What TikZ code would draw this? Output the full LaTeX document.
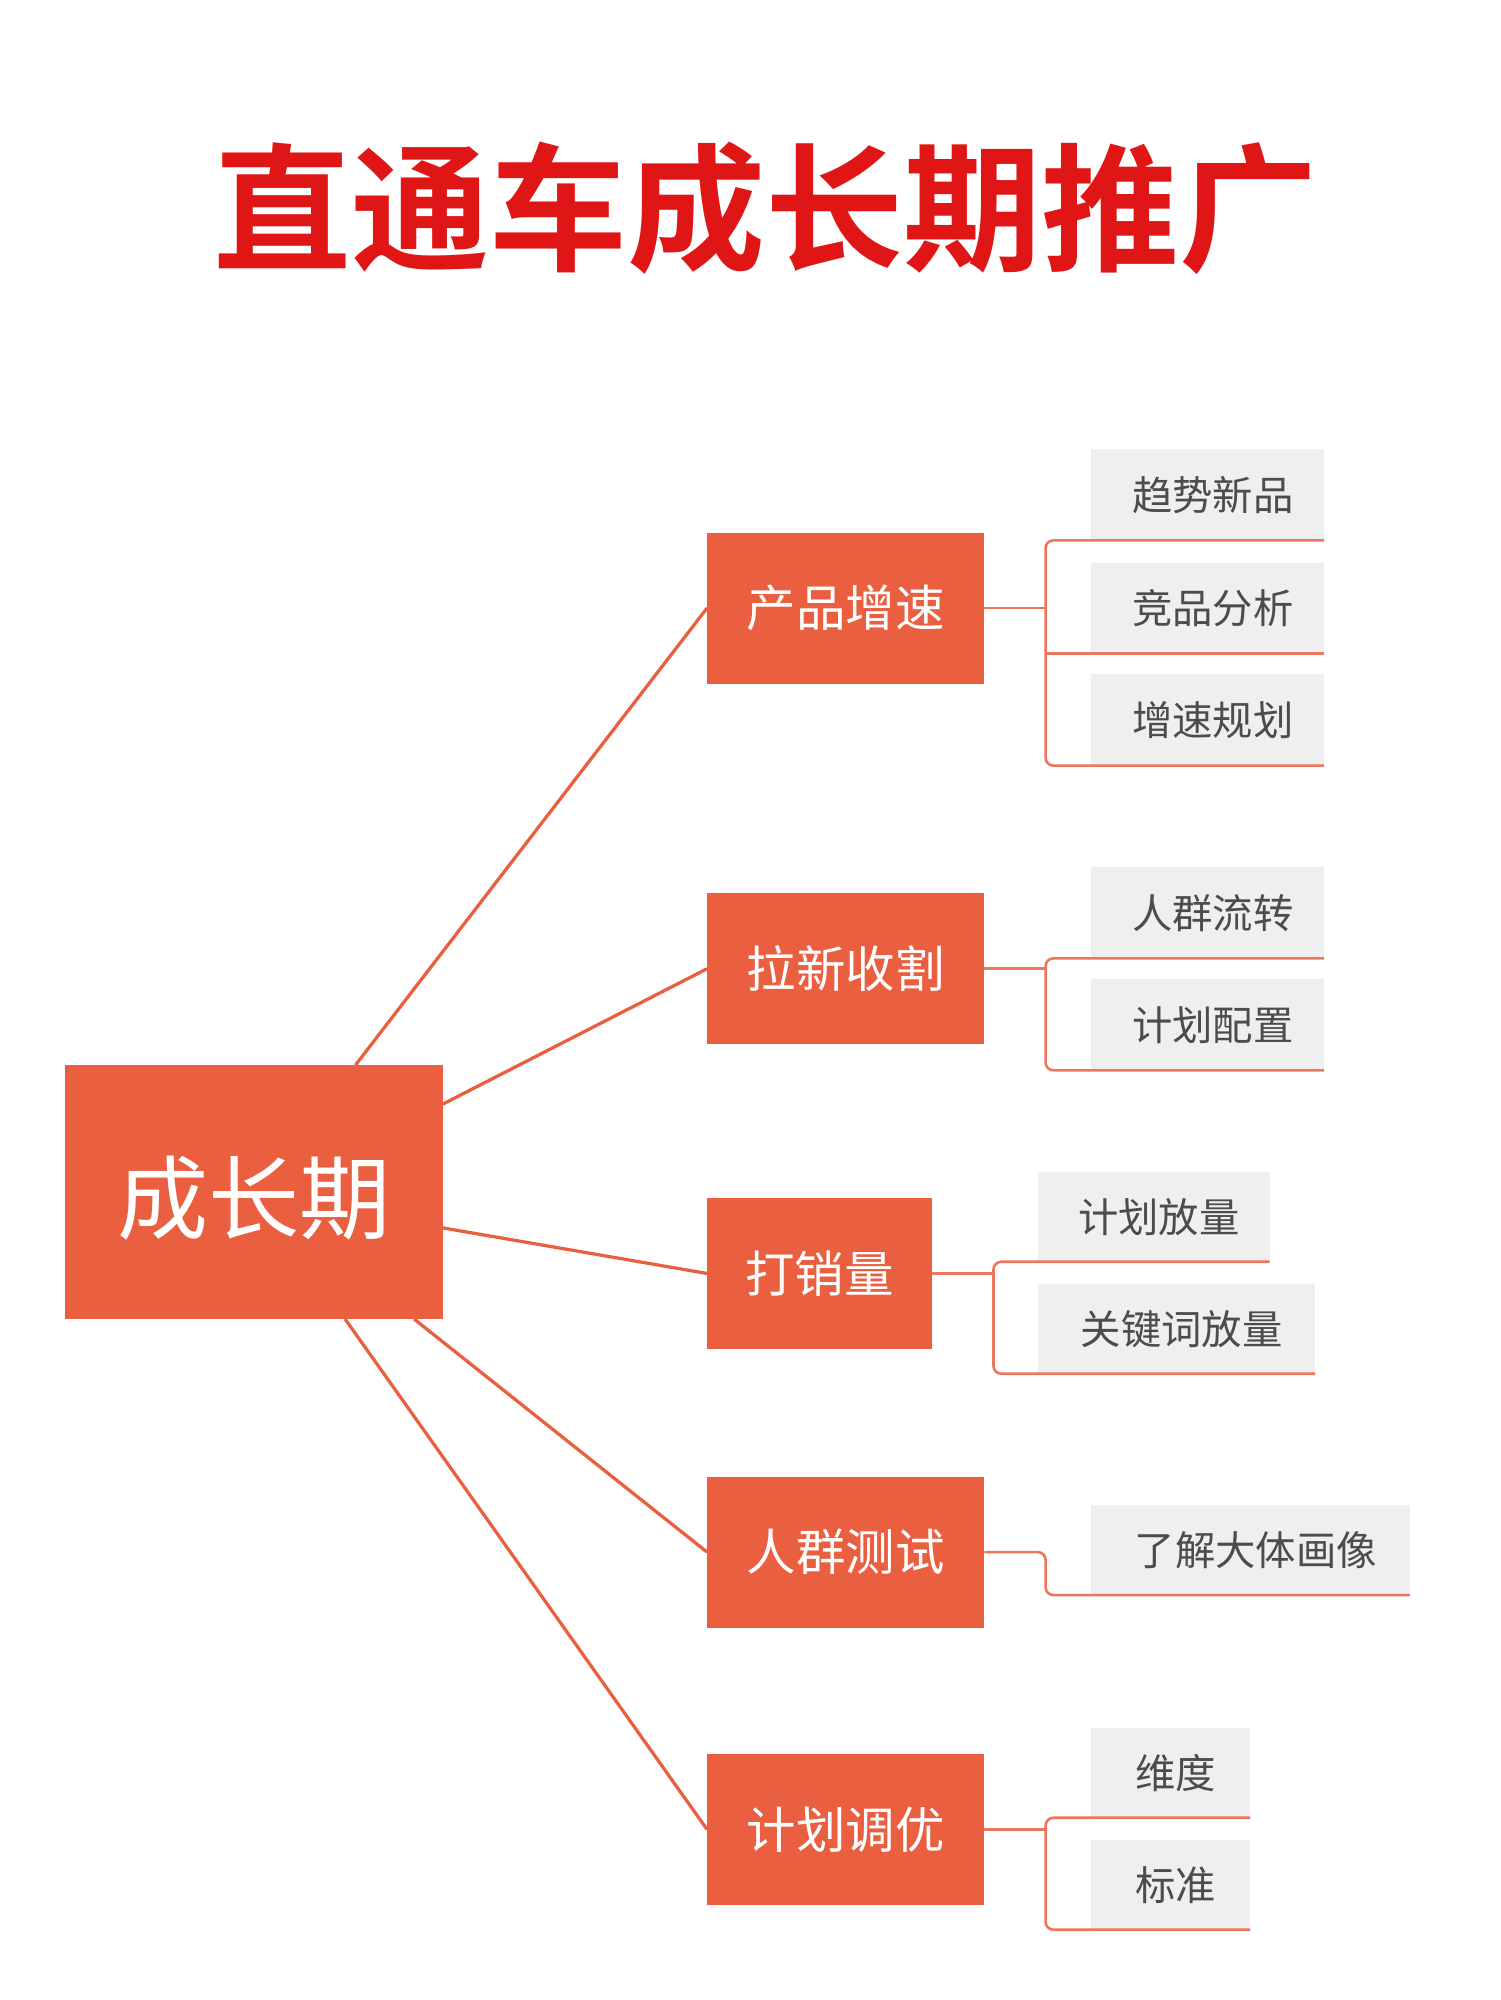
\documentclass[tikz,border=0pt]{standalone}
\usepackage{fontspec}
\setmainfont{Noto Sans CJK SC}
\newfontfamily\titlefont{Noto Sans CJK SC Black}
\definecolor{org}{HTML}{EA5F40}
\definecolor{leafbg}{HTML}{EFEFEF}
\definecolor{ttl}{HTML}{E01515}
\begin{document}
\begin{tikzpicture}[x=1pt,y=-1pt,
  leaftxt/.style={text=black!70,font=\fontsize{31}{33}\selectfont},
  con/.style={draw=org,line width=2.5pt},
  br/.style={draw=org!85,line width=2pt,rounded corners=6pt}]
\useasboundingbox (0,0) rectangle (1152,1536);
\fill[white] (0,0) rectangle (1152,1536);
\node[text=ttl,font=\titlefont\fontsize{106}{108}\selectfont\bfseries] (title) at (588,160) {直通车成长期推广};
% root
\fill[org] (50,818) rectangle (340,1013);
\node[text=white,font=\fontsize{70}{72}\selectfont] (root) at (195,920) {成长期};
% mid boxes
\newcommand{\midbox}[6]{\fill[org] (#2,#3) rectangle (#4,#5); \node[text=white,font=\fontsize{38}{40}\selectfont] (#1) at ({(#2+#4)/2},{(#3+#5)/2}) {#6};}
\midbox{m1}{543}{409}{756}{525}{产品增速}
\midbox{m2}{543}{686}{756}{802}{拉新收割}
\midbox{m3}{543}{920}{716}{1036}{打销量}
\midbox{m4}{543}{1134}{756}{1250}{人群测试}
\midbox{m5}{543}{1347}{756}{1463}{计划调优}
\draw[con] (273,818) -- (543,467);
\draw[con] (340,848) -- (543,744);
\draw[con] (340,943) -- (543,978);
\draw[con] (318,1013) -- (543,1192);
\draw[con] (265,1013) -- (543,1405);
\newcommand{\leaf}[6]{\fill[leafbg] (#2,#3) rectangle (#4,#5); \node[leaftxt] (#1) at ({(#2+#4)/2+4},{(#3+#5)/2}) {#6};}
% group 1
\leaf{l11}{838}{345}{1017}{415}{趋势新品}
\leaf{l12}{838}{432}{1017}{502}{竞品分析}
\leaf{l13}{838}{518}{1017}{588}{增速规划}
\draw[br] (756,467) -- (803,467);
\draw[br] (1017,415) -- (803,415) -- (803,588) -- (1017,588);
\draw[br] (803,502) -- (1017,502);
% group 2
\leaf{l21}{838}{666}{1017}{736}{人群流转}
\leaf{l22}{838}{752}{1017}{822}{计划配置}
\draw[br] (756,744) -- (803,744);
\draw[br] (1017,736) -- (803,736) -- (803,822) -- (1017,822);
% group 3
\leaf{l31}{797}{900}{975}{969}{计划放量}
\leaf{l32}{797}{986}{1010}{1055}{关键词放量}
\draw[br] (716,978) -- (763,978);
\draw[br] (975,969) -- (763,969) -- (763,1055) -- (1010,1055);
% group 4
\leaf{l41}{838}{1156}{1083}{1225}{了解大体画像}
\draw[br] (756,1192) -- (803,1192) -- (803,1225) -- (1083,1225);
% group 5
\leaf{l51}{838}{1327}{960}{1396}{维度}
\leaf{l52}{838}{1413}{960}{1482}{标准}
\draw[br] (756,1405) -- (803,1405);
\draw[br] (960,1396) -- (803,1396) -- (803,1482) -- (960,1482);
\end{tikzpicture}
\end{document}
